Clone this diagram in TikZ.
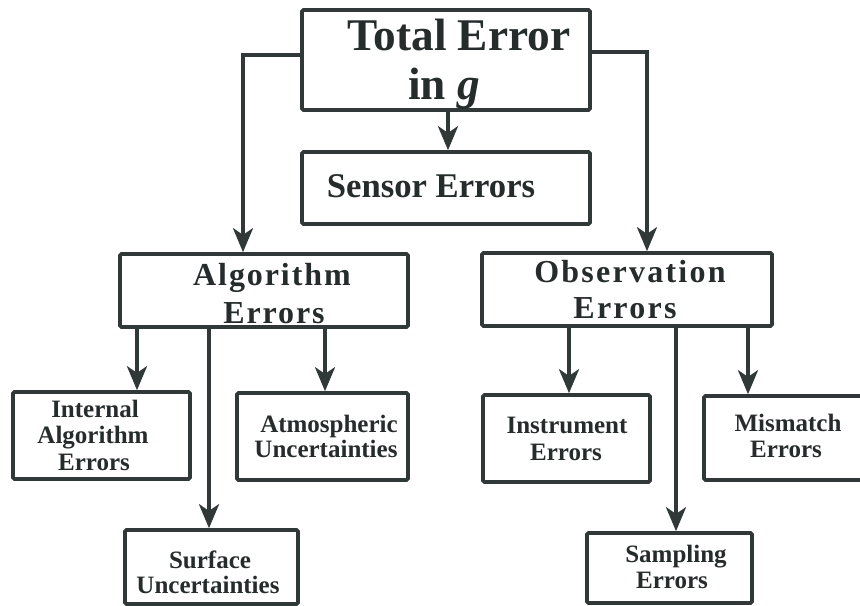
\documentclass[tikz,border=0pt]{standalone}
\usepackage{fontspec}
\setmainfont{Liberation Serif}
\newfontfamily\spacedA{Liberation Serif}[LetterSpace=6]
\newfontfamily\spacedO{Liberation Serif}[LetterSpace=7]
\usetikzlibrary{arrows.meta,fit}
\definecolor{ink}{RGB}{48,56,56}
\definecolor{txt}{RGB}{38,44,44}
\begin{document}
\begin{tikzpicture}[x=0.75pt,y=-0.75pt,
  box/.style={draw=ink,line width=2.7pt,inner sep=0pt,rounded corners=1pt},
  arr/.style={draw=ink,line width=2.7pt,-{Stealth[length=18pt,width=15pt,inset=5pt]}},
  lbl/.style={anchor=base,inner sep=0pt,text=txt,font=\bfseries},
  big/.style={lbl,font=\fontsize{34}{40}\selectfont\bfseries},
  mid/.style={lbl,font=\fontsize{26}{30}\selectfont\bfseries},
  alg/.style={lbl,font=\fontsize{24}{28}\selectfont\spacedA\bfseries},
  obs/.style={lbl,font=\fontsize{24}{28}\selectfont\spacedO\bfseries},
  sml/.style={lbl,font=\fontsize{18.75}{22}\selectfont\bfseries}]
\useasboundingbox (0,0) rectangle (860,606);
\clip (0,0) rectangle (860,606);
\fill[white] (0,0) rectangle (860,606);
% boxes
\node[box,fit={(302,10)(590,110)}] (total) {};
\node[box,fit={(302,152)(590,224)}] (sensor) {};
\node[box,fit={(120,254)(408,327)}] (algo) {};
\node[box,fit={(482,253)(772,326)}] (obsv) {};
\node[box,fit={(13,392)(190,479)}] (internal) {};
\node[box,fit={(237,393)(408,480)}] (atmos) {};
\node[box,fit={(125,530)(298,604)}] (surface) {};
\node[box,fit={(483,395)(650,482)}] (instr) {};
\node[box,fit={(704,396)(868,480)}] (mismatch) {};
\node[box,fit={(587,533)(752,603)}] (sampling) {};
% texts
\node[big] (tA) at (459,51) {Total Error};
\node[big] (tB) at (444,100) {in \textit{g}};
\node[mid] (tC) at (431,197) {Sensor Errors};
\node[alg] (tD) at (272,285) {Algorithm};
\node[alg] (tE) at (274,323) {Errors};
\node[obs] (tF) at (630,282) {Observation};
\node[obs] (tG) at (625,318) {Errors};
\node[sml] (tH) at (95,417) {Internal};
\node[sml] (tI) at (93,443) {Algorithm};
\node[sml] (tJ) at (94,470) {Errors};
\node[sml] (tK) at (329,432) {Atmospheric};
\node[sml] (tL) at (326,457) {Uncertainties};
\node[sml] (tM) at (210,568) {Surface};
\node[sml] (tN) at (208,593) {Uncertainties};
\node[sml] (tO) at (567,433) {Instrument};
\node[sml] (tP) at (566,460) {Errors};
\node[sml] (tQ) at (788,431) {Mismatch};
\node[sml] (tR) at (786,457) {Errors};
\node[sml] (tS) at (676,562) {Sampling};
\node[sml] (tT) at (672,588) {Errors};
% guide coordinates
\coordinate (yl) at (0,55);
\coordinate (yr) at (0,52);
\coordinate (xl) at (243,0);
\coordinate (xr) at (647,0);
\coordinate (xc) at (448,0);
\coordinate (a1) at (137,0);
\coordinate (a2) at (209,0);
\coordinate (a3) at (325,0);
\coordinate (o1) at (569,0);
\coordinate (o2) at (676,0);
\coordinate (o3) at (748,0);
% connectors
\draw[arr] (total.west |- yl) -| (algo.north -| xl);
\draw[arr] (total.east |- yr) -| (obsv.north -| xr);
\draw[arr] (total.south -| xc) -- (sensor.north -| xc);
\draw[arr] (algo.south -| a1) -- (internal.north -| a1);
\draw[arr] (algo.south -| a2) -- (surface.north -| a2);
\draw[arr] (algo.south -| a3) -- (atmos.north -| a3);
\draw[arr] (obsv.south -| o1) -- (instr.north -| o1);
\draw[arr] (obsv.south -| o2) -- (sampling.north -| o2);
\draw[arr] (obsv.south -| o3) -- (mismatch.north -| o3);
\end{tikzpicture}
\end{document}
